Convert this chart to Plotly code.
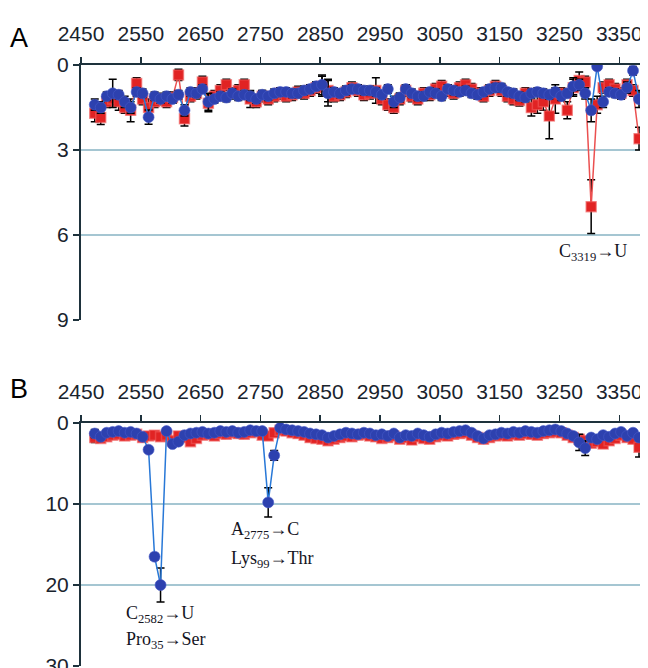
import plotly.graph_objects as go

# positions (nucleotide numbers)
positions = [2473, 2483, 2493, 2503, 2513, 2523, 2533, 2543, 2553, 2563,
             2573, 2583, 2593, 2603, 2613, 2623, 2633, 2643, 2653, 2663,
             2673, 2683, 2693, 2703, 2713, 2723, 2733, 2743, 2753, 2763,
             2773, 2783, 2793, 2803, 2813, 2823, 2833, 2843, 2853, 2863,
             2873, 2883, 2893, 2903, 2913, 2923, 2933, 2943, 2953, 2963,
             2973, 2983, 2993, 3003, 3013, 3023, 3033, 3043, 3053, 3063,
             3073, 3083, 3093, 3103, 3113, 3123, 3133, 3143, 3153, 3163,
             3173, 3183, 3193, 3203, 3213, 3223, 3233, 3243, 3253, 3263,
             3273, 3283, 3293, 3303, 3313, 3323, 3333, 3343, 3353, 3363,
             3373, 3383]

# Panel A
a_red = [1.7, 1.85, 1.3, 1.2, 1.3, 1.5, 1.6, 0.65, 1.2, 1.5,
         1.3, 1.2, 1.3, 1.15, 0.35, 1.9, 1.1, 1.0, 0.6, 1.35,
         1.1, 0.9, 0.7, 1.0, 0.9, 0.7, 1.2, 1.3, 1.1, 1.2,
         1.1, 1.0, 1.1, 1.05, 0.95, 1.0, 0.9, 0.8, 0.75, 0.9,
         1.1, 1.05, 0.95, 0.8, 0.9, 1.05, 1.0, 0.9, 1.2, 1.4,
         1.5, 1.2, 0.9, 1.1, 1.2, 1.0, 1.05, 0.85, 0.75, 0.9,
         1.0, 0.8, 0.7, 0.85, 1.0, 1.1, 0.9, 0.75, 0.9, 1.1,
         1.2, 1.25, 1.0, 1.5, 1.4, 1.3, 1.8, 1.2, 1.0, 1.6,
         0.8, 0.55, 0.6, 5.0, 1.4, 0.8, 0.7, 0.85, 1.0, 0.7,
         0.9, 2.6]
a_red_err = [0.3, 0.25, 0.2, 0.2, 0.3, 0.2, 0.4, 0.2, 0.2, 0.3,
             0.2, 0.2, 0.2, 0.2, 0.2, 0.25, 0.2, 0.2, 0.2, 0.3,
             0.2, 0.2, 0.2, 0.2, 0.2, 0.2, 0.3, 0.2, 0.2, 0.2,
             0.2, 0.2, 0.2, 0.2, 0.2, 0.2, 0.2, 0.2, 0.35, 0.4,
             0.2, 0.2, 0.2, 0.2, 0.2, 0.2, 0.2, 0.45, 0.2, 0.2,
             0.2, 0.2, 0.2, 0.2, 0.2, 0.2, 0.2, 0.2, 0.2, 0.2,
             0.2, 0.2, 0.2, 0.2, 0.2, 0.2, 0.2, 0.2, 0.2, 0.2,
             0.2, 0.2, 0.2, 0.3, 0.3, 0.3, 0.8, 0.5, 0.2, 0.3,
             0.3, 0.3, 0.2, 0.95, 0.3, 0.2, 0.2, 0.2, 0.2, 0.2,
             0.2, 0.4]
a_blue = [1.4, 1.5, 1.1, 1.0, 1.05, 1.3, 1.5, 0.95, 1.0, 1.84,
          1.1, 1.2, 1.1, 1.2, 1.05, 1.6, 0.95, 1.0, 0.85, 1.3,
          1.2, 1.1, 1.15, 1.0, 1.1, 1.05, 1.1, 1.2, 1.05, 1.1,
          1.0, 0.95, 0.95, 1.0, 1.0, 0.9, 0.85, 0.75, 0.7, 1.0,
          0.95, 1.0, 0.9, 0.85, 0.85, 0.9, 0.9, 0.95, 1.05, 0.85,
          1.3, 1.15, 0.85, 1.0, 1.1, 1.1, 0.95, 1.0, 1.1, 0.85,
          0.9, 0.95, 0.9, 1.0, 1.05, 0.95, 0.85, 0.8, 0.8, 0.95,
          1.0, 1.1, 1.15, 1.0, 0.95, 1.0, 1.05, 0.95, 1.1, 1.0,
          0.75, 0.7, 1.0, 1.6, 0.05, 1.3, 0.95, 1.0, 1.05, 0.8,
          0.2, 1.2]
a_blue_err = [0.2, 0.2, 0.15, 0.5, 0.15, 0.2, 0.2, 0.15, 0.15, 0.25,
              0.15, 0.15, 0.15, 0.15, 0.15, 0.2, 0.15, 0.15, 0.15, 0.3,
              0.15, 0.15, 0.15, 0.15, 0.15, 0.15, 0.15, 0.15, 0.15, 0.15,
              0.15, 0.15, 0.15, 0.15, 0.15, 0.15, 0.15, 0.15, 0.35, 0.45,
              0.15, 0.15, 0.15, 0.15, 0.15, 0.15, 0.15, 0.15, 0.15, 0.15,
              0.2, 0.15, 0.15, 0.15, 0.15, 0.15, 0.15, 0.15, 0.15, 0.15,
              0.15, 0.15, 0.15, 0.15, 0.15, 0.15, 0.15, 0.15, 0.15, 0.15,
              0.15, 0.15, 0.15, 0.15, 0.15, 0.15, 0.15, 0.15, 0.15, 0.15,
              0.3, 0.2, 0.2, 0.4, 0.1, 0.2, 0.15, 0.15, 0.15, 0.2,
              0.15, 0.3]

# Panel B
b_red = [1.8, 1.9, 1.7, 1.5, 1.4, 1.6, 1.5, 1.4, 1.8, 1.6,
         1.5, 1.7, 1.5, 2.2, 1.6, 1.8, 2.3, 1.9, 1.5, 1.4,
         1.6, 1.3, 1.4, 1.2, 1.3, 1.4, 1.2, 1.1, 1.5, 1.6,
         1.2, 0.9, 1.0, 1.2, 1.3, 1.5, 1.8, 1.9, 2.0, 2.2,
         2.0, 1.8, 1.6, 1.7, 1.5, 1.4, 1.6, 1.7, 1.9, 1.8,
         1.6, 2.0, 1.8, 2.1, 1.7, 1.9, 2.0, 1.7, 1.5, 1.6,
         1.4, 1.3, 1.2, 1.5, 1.8, 2.0, 1.8, 1.6, 1.5, 1.6,
         1.4, 1.5, 1.3, 1.4, 1.5, 1.3, 1.2, 1.1, 1.2, 1.5,
         1.8, 2.0, 2.2, 2.5, 2.3, 2.6, 2.2, 1.9, 1.5, 1.8,
         2.0, 3.0]
b_red_err = [0.6, 0.3, 0.3, 0.3, 0.3, 0.3, 0.3, 0.3, 0.3, 0.3,
             0.3, 0.3, 0.3, 0.4, 0.3, 0.3, 0.3, 0.3, 0.3, 0.3,
             0.3, 0.3, 0.3, 0.3, 0.3, 0.3, 0.3, 0.3, 0.3, 0.3,
             0.3, 0.3, 0.3, 0.3, 0.3, 0.3, 0.3, 0.3, 0.3, 0.3,
             0.3, 0.3, 0.3, 0.3, 0.3, 0.3, 0.3, 0.3, 0.3, 0.3,
             0.3, 0.3, 0.3, 0.3, 0.3, 0.3, 0.3, 0.3, 0.3, 0.3,
             0.3, 0.3, 0.3, 0.3, 0.3, 0.3, 0.3, 0.3, 0.3, 0.3,
             0.3, 0.3, 0.3, 0.3, 0.3, 0.3, 0.3, 0.3, 0.3, 0.3,
             0.4, 0.5, 0.4, 0.4, 0.3, 0.3, 0.3, 0.3, 0.3, 0.3,
             0.3, 1.2]
b_blue = [1.3, 1.7, 1.2, 1.1, 1.0, 1.2, 1.1, 1.3, 1.7, 3.3,
          16.5, 20.0, 1.0, 2.6, 2.3, 1.5, 1.3, 1.2, 1.1, 1.3,
          1.2, 1.0, 1.1, 1.0, 1.2, 1.1, 0.9, 1.0, 1.0, 9.8,
          4.0, 0.6, 0.8, 0.9, 1.0, 1.1, 1.3, 1.4, 1.5, 1.8,
          1.6, 1.4, 1.2, 1.3, 1.4, 1.2, 1.3, 1.5, 1.4, 1.6,
          1.3, 1.8, 1.5, 1.6, 1.3, 1.5, 1.7, 1.4, 1.2, 1.3,
          1.1, 1.0, 0.9, 1.2, 1.6, 1.9, 1.5, 1.4, 1.2, 1.3,
          1.1, 1.2, 1.0, 1.1, 1.2, 1.0, 0.9, 0.8, 1.0, 1.3,
          1.6, 2.4, 3.1, 1.8, 2.0, 1.5, 1.7, 1.3, 1.1, 1.6,
          1.2, 1.8]
b_blue_err = [0.5, 0.3, 0.3, 0.3, 0.3, 0.3, 0.3, 0.3, 0.3, 0.3,
              0.4, 2.1, 0.3, 0.3, 0.3, 0.3, 0.3, 0.3, 0.3, 0.3,
              0.3, 0.3, 0.3, 0.3, 0.3, 0.3, 0.3, 0.3, 0.3, 1.8,
              0.6, 0.3, 0.3, 0.3, 0.3, 0.3, 0.3, 0.3, 0.3, 0.3,
              0.3, 0.3, 0.3, 0.3, 0.3, 0.3, 0.3, 0.3, 0.3, 0.3,
              0.3, 0.3, 0.3, 0.3, 0.3, 0.3, 0.3, 0.3, 0.3, 0.3,
              0.3, 0.3, 0.3, 0.3, 0.3, 0.3, 0.3, 0.3, 0.3, 0.3,
              0.3, 0.3, 0.3, 0.3, 0.3, 0.3, 0.3, 0.3, 0.3, 0.3,
              0.3, 1.0, 0.9, 0.3, 0.3, 0.3, 0.3, 0.3, 0.3, 0.3,
              0.3, 0.3]

x_ticks = [2450, 2550, 2650, 2750, 2850, 2950, 3050, 3150, 3250, 3350]
a_yticks = [0, 3, 6, 9]
b_yticks = [0, 10, 20, 30]

RED = "rgb(225,35,35)"
RED_LINE = "rgb(235,80,80)"
BLUE = "rgb(45,65,175)"
BLUE_LINE = "rgb(40,120,215)"
AXIS = "rgb(30,50,60)"
GRID = "rgb(165,198,210)"
TICKFONT = dict(family="Liberation Sans, Arial, sans-serif", size=21, color="rgb(25,35,45)")
SERIF = dict(family="Liberation Serif, Times New Roman, serif", size=18, color="rgb(20,20,30)")

# the page body has an 8px margin; the figure runs past the window bottom
# so that the last panel's bottom label is cut like in the reference
OFF = 8
W, H = 640, 680
def px_x(p):
    return (p - OFF) / W
def px_y(p):
    return 1 - (p - OFF) / H

fig = go.Figure()

def add_panel(xa, ya, red, red_err, blue, blue_err):
    fig.add_trace(go.Scatter(
        x=positions, y=red, xaxis=xa, yaxis=ya, mode="lines+markers",
        line=dict(color=RED_LINE, width=1.5),
        marker=dict(symbol="square", size=10, color=RED,
                    line=dict(color="rgba(240,90,90,0.6)", width=1.5)),
        error_y=dict(type="data", array=red_err, color="black", thickness=1.5, width=4),
        showlegend=False, hoverinfo="skip"))
    fig.add_trace(go.Scatter(
        x=positions, y=blue, xaxis=xa, yaxis=ya, mode="lines+markers",
        line=dict(color=BLUE_LINE, width=1.5),
        marker=dict(symbol="circle", size=11, color=BLUE,
                    line=dict(color="rgba(70,90,200,0.6)", width=1)),
        error_y=dict(type="data", array=blue_err, color="black", thickness=1.5, width=4),
        showlegend=False, hoverinfo="skip"))

add_panel("x", "y", a_red, a_red_err, a_blue, a_blue_err)
add_panel("x2", "y2", b_red, b_red_err, b_blue, b_blue_err)

xdom = [px_x(81), px_x(645)]
xaxis_common = dict(
    domain=xdom, range=[2450, 3393], side="top", tickvals=x_ticks,
    ticks="outside", ticklen=6, tickwidth=1.5, tickcolor=AXIS,
    showline=True, linecolor=AXIS, linewidth=2, showgrid=False, zeroline=False,
    tickfont=TICKFONT, ticklabelstandoff=8, automargin=False, fixedrange=True)
yaxis_common = dict(
    ticks="outside", ticklen=6, tickwidth=1.5, tickcolor=AXIS,
    showline=True, linecolor=AXIS, linewidth=2,
    showgrid=True, gridcolor=GRID, gridwidth=1.5, zeroline=False,
    tickfont=TICKFONT, ticklabelstandoff=0, automargin=False, fixedrange=True)

fig.update_layout(
    width=W, height=H, margin=dict(l=0, r=0, t=0, b=0, autoexpand=False),
    paper_bgcolor="white", plot_bgcolor="white",
    xaxis=dict(xaxis_common, anchor="y"),
    xaxis2=dict(xaxis_common, anchor="y2"),
    yaxis=dict(yaxis_common, domain=[px_y(320), px_y(65)], range=[9, 0],
               tickvals=a_yticks, anchor="x"),
    yaxis2=dict(yaxis_common, domain=[px_y(666), px_y(423)], range=[30, 0],
                tickvals=b_yticks, anchor="x2"),
    shapes=[
        dict(type="line", xref="x domain", yref="y domain", x0=1, x1=1, y0=0, y1=1,
             line=dict(color=GRID, width=1.5)),
        dict(type="line", xref="x2 domain", yref="y2 domain", x0=1, x1=1, y0=0, y1=1,
             line=dict(color=GRID, width=1.5)),
    ],
    annotations=[
        dict(text="A", xref="paper", yref="paper", x=px_x(19), y=px_y(38),
             xanchor="center", yanchor="middle", showarrow=False,
             font=dict(family="Liberation Sans, Arial, sans-serif", size=27, color="black")),
        dict(text="B", xref="paper", yref="paper", x=px_x(19), y=px_y(389),
             xanchor="center", yanchor="middle", showarrow=False,
             font=dict(family="Liberation Sans, Arial, sans-serif", size=27, color="black")),
        dict(text="C<sub>3319</sub>→U", xref="x", yref="y", x=3306, y=6.6,
             xanchor="center", yanchor="middle", showarrow=False, font=SERIF),
        dict(text="A<sub>2775</sub>→C", xref="x2", yref="y2", x=2698, y=13.3,
             xanchor="left", yanchor="middle", showarrow=False, font=SERIF),
        dict(text="Lys<sub>99</sub>→Thr", xref="x2", yref="y2", x=2698, y=16.8,
             xanchor="left", yanchor="middle", showarrow=False, font=SERIF),
        dict(text="C<sub>2582</sub>→U", xref="x2", yref="y2", x=2522, y=23.7,
             xanchor="left", yanchor="middle", showarrow=False, font=SERIF),
        dict(text="Pro<sub>35</sub>→Ser", xref="x2", yref="y2", x=2522, y=26.8,
             xanchor="left", yanchor="middle", showarrow=False, font=SERIF),
    ],
)

fig.write_html("out.html", config={"displayModeBar": False, "staticPlot": True})
